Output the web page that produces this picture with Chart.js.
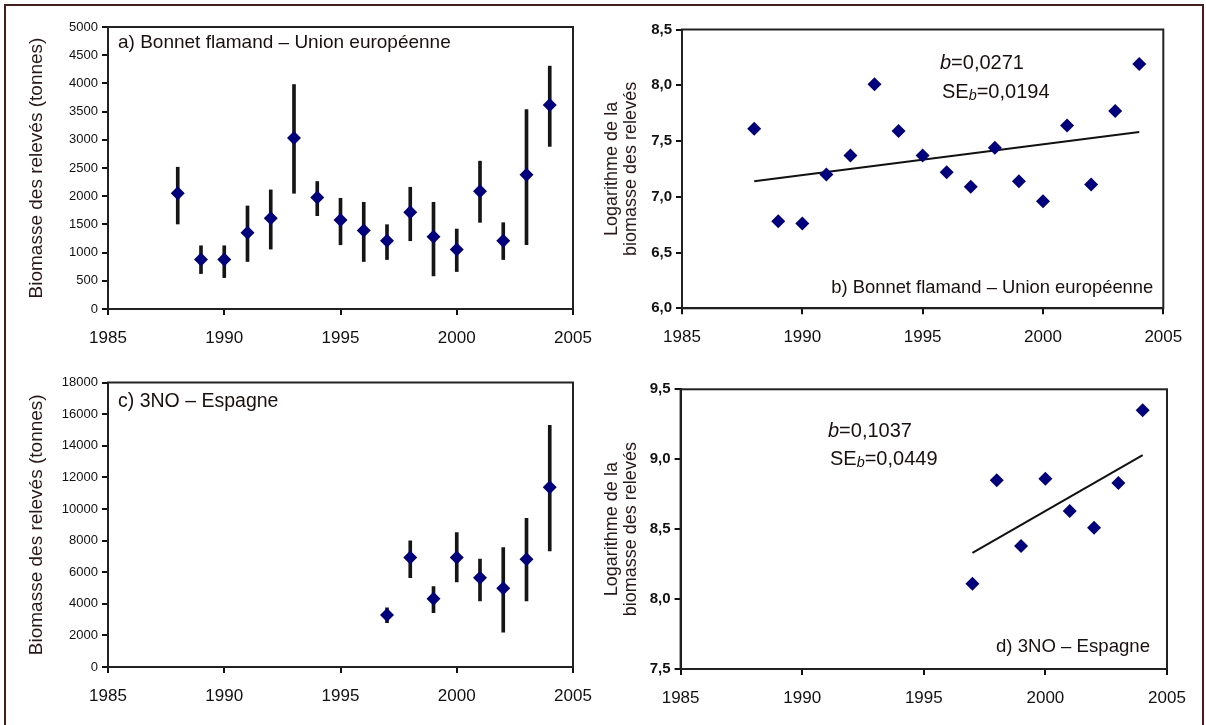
<!DOCTYPE html>
<html><head><meta charset="utf-8">
<script src="https://cdn.jsdelivr.net/npm/chart.js@4.4.0/dist/chart.umd.min.js"></script>
<style>
html,body{margin:0;padding:0;background:#fff;}
body{width:1206px;height:725px;position:relative;overflow:hidden;font-family:"Liberation Sans",Arial,sans-serif;}
#frame{position:absolute;left:4px;top:4px;width:1196px;height:740px;border:2px solid #4a1c1c;}
canvas{position:absolute;}
</style></head><body>
<div id="frame"></div>
<canvas id="ca" style="left:0px;top:10px" width="600" height="350"></canvas>
<canvas id="cb" style="left:595px;top:10px" width="605" height="350"></canvas>
<canvas id="cc" style="left:0px;top:365px" width="600" height="360"></canvas>
<canvas id="cd" style="left:595px;top:365px" width="605" height="360"></canvas>
<script>
// ---- Data ----
const yearsA = [1988,1989,1990,1991,1992,1993,1994,1995,1996,1997,1998,1999,2000,2001,2002,2003,2004];
const biomassA = [2052,877,877,1352,1607,3031,1975,1578,1394,1210,1714,1281,1056,2088,1210,2379,3618];
const lowA  = [1507,628,557,842,1062,2052,1655,1139,842,877,1210,587,664,1536,877,1139,2883];
const highA = [2514,1121,1121,1827,2112,3980,2260,1963,1892,1495,2159,1892,1418,2621,1530,3535,4306];

const yearsB = [1988,1989,1990,1991,1992,1993,1994,1995,1996,1997,1998,1999,2000,2001,2002,2003,2004];
const logB = [7.61,6.78,6.76,7.20,7.37,8.01,7.59,7.37,7.22,7.09,7.44,7.14,6.96,7.64,7.11,7.77,8.19];
const trendYearsB = [1988,2004];
const trendB = [7.14,7.58];

const yearsC = [1997,1998,1999,2000,2001,2002,2003,2004];
const biomassC = [3284,6923,4319,6923,5653,4979,6821,11369];
const lowC  = [2800,5653,3430,5380,4173,2204,4173,7349];
const highC = [3750,7984,5081,8511,6821,7558,9400,15288];

const yearsD = [1997,1998,1999,2000,2001,2002,2003,2004];
const logD = [8.11,8.85,8.38,8.86,8.63,8.51,8.83,9.35];
const trendYearsD = [1997,2004];
const trendD = [8.33,9.03];

const yTitleBiomass = 'Biomasse des relevés (tonnes)';
const yTitleLog = ['Logarithme de la','biomasse des relevés'];
const titleA = 'a) Bonnet flamand – Union européenne';
const titleB = 'b) Bonnet flamand – Union européenne';
const titleC = 'c) 3NO – Espagne';
const titleD = 'd) 3NO – Espagne';
const slopeB = '=0,0271', seB = '=0,0194';
const slopeD = '=0,1037', seD = '=0,0449';

// ---- Plugins ----
const FONT = '"Liberation Sans", Arial, sans-serif';
const TXT = '#1a1010';
const framePlugin = {
  id: 'frameBox',
  beforeDatasetsDraw(chart) {
    const {ctx, chartArea: a} = chart;
    ctx.save();
    ctx.strokeStyle = '#222';
    ctx.lineWidth = 2;
    ctx.strokeRect(a.left, a.top, a.right - a.left, a.bottom - a.top);
    ctx.restore();
  }
};
function drawRuns(ctx, runs, x, y, size, align) {
  let total = 0;
  const parts = runs.map(r => {
    const s = r.sub ? size * 0.72 : size;
    const f = (r.italic ? 'italic ' : '') + s + 'px ' + FONT;
    ctx.font = f;
    const w = ctx.measureText(r.t).width;
    total += w;
    return {t: r.t, f, w, dy: r.sub ? size * 0.18 : 0};
  });
  let cx = align === 'right' ? x - total : x;
  ctx.textBaseline = 'middle';
  ctx.textAlign = 'left';
  parts.forEach(p => {
    ctx.font = p.f;
    ctx.fillText(p.t, cx, y + p.dy);
    cx += p.w;
  });
}
const notesPlugin = {
  id: 'notes',
  afterDraw(chart, args, opts) {
    const {ctx, chartArea: a} = chart;
    ctx.save();
    ctx.fillStyle = TXT;
    (opts.items || []).forEach(it => {
      const x = it.ref === 'right' ? a.right + it.dx : a.left + it.dx;
      const y = it.vref === 'bottom' ? a.bottom + it.dy : a.top + it.dy;
      drawRuns(ctx, it.runs, x, y, it.size || 18, it.ref === 'right' ? 'right' : 'left');
    });
    ctx.restore();
  }
};

function build(id, o) {
  const datasets = [{
    type: 'scatter',
    data: o.xs.map((x, i) => ({x, y: o.ys[i]})),
    pointStyle: 'rectRot', pointRadius: o.r, pointHoverRadius: o.r,
    backgroundColor: '#00007f', borderColor: '#00007f', borderWidth: 0, order: 0
  }];
  if (o.lo) datasets.push({
    type: 'bar',
    data: o.xs.map((x, i) => ({x, y: [o.lo[i], o.hi[i]]})),
    backgroundColor: '#151515', barThickness: 3, order: 2
  });
  if (o.tx) datasets.push({
    type: 'line',
    data: o.tx.map((x, i) => ({x, y: o.ty[i]})),
    borderColor: '#111', borderWidth: 2, pointRadius: 0, fill: false, order: 1
  });
  const tickGrid = {drawOnChartArea: false, drawTicks: true, tickLength: 6, color: '#111', lineWidth: 2, offset: false};
  new Chart(document.getElementById(id), {
    type: 'scatter',
    data: {datasets},
    options: {
      responsive: false, animation: false, events: [], devicePixelRatio: 1,
      layout: {padding: {top: o.padTop, right: o.padRight, left: 0, bottom: 0}},
      plugins: {legend: {display: false}, tooltip: {enabled: false}, notes: {items: o.notes}},
      scales: {
        x: {
          type: 'linear', min: 1985, max: 2005, offset: false,
          ticks: {stepSize: 5, color: '#111', font: {family: FONT, size: 17}, padding: 13,
                  callback: v => String(v), maxRotation: 0},
          grid: tickGrid, border: {display: true, color: '#111', width: 2},
          afterFit: s => { s.height = o.xH; s.paddingLeft = 0; s.paddingRight = 0; }
        },
        y: {
          type: 'linear', min: o.ymin, max: o.ymax, offset: false,
          ticks: {stepSize: o.ystep, color: '#111', font: o.yFont, padding: 4,
                  callback: o.yFmt},
          grid: tickGrid, border: {display: true, color: '#111', width: 2},
          title: {display: true, text: o.yTitle, color: '#2a1818',
                  font: {family: FONT, size: o.tSize, lineHeight: o.tLH}, padding: {top: o.tPad, bottom: 0}},
          afterFit: s => { s.width = o.yW; }
        }
      }
    },
    plugins: [framePlugin, notesPlugin]
  });
}

const fmtInt = v => String(v);
const fmtDec = v => v.toFixed(1).replace('.', ',');

build('ca', {
  xs: yearsA, ys: biomassA, lo: lowA, hi: highA, r: 7,
  ymin: 0, ymax: 5000, ystep: 500, yFmt: fmtInt, yFont: {family: FONT, size: 13},
  yTitle: yTitleBiomass, tSize: 19, tLH: 1.2, tPad: 25.6,
  yW: 108, padTop: 17, padRight: 27, xH: 51,
  notes: [{runs: [{t: titleA}], dx: 10, dy: 16, size: 19}]
});
build('cb', {
  xs: yearsB, ys: logB, tx: trendYearsB, ty: trendB, r: 7,
  ymin: 6, ymax: 8.5, ystep: 0.5, yFmt: fmtDec, yFont: {family: FONT, size: 15, weight: 'bold'},
  yTitle: yTitleLog, tSize: 18, tLH: 1.05, tPad: 7.5,
  yW: 87, padTop: 19.5, padRight: 36.7, xH: 51.7,
  notes: [
    {runs: [{t: 'b', italic: true}, {t: slopeB}], dx: 258, dy: 33.5, size: 20},
    {runs: [{t: 'SE'}, {t: 'b', italic: true, sub: true}, {t: seB}], dx: 260, dy: 62.5, size: 20},
    {runs: [{t: titleB}], ref: 'right', dx: -10, vref: 'bottom', dy: -20, size: 18.4}
  ]
});
build('cc', {
  xs: yearsC, ys: biomassC, lo: lowC, hi: highC, r: 7,
  ymin: 0, ymax: 18000, ystep: 2000, yFmt: fmtInt, yFont: {family: FONT, size: 13},
  yTitle: yTitleBiomass, tSize: 19, tLH: 1.2, tPad: 25.6,
  yW: 108, padTop: 17.5, padRight: 27, xH: 58,
  notes: [{runs: [{t: titleC}], dx: 10, dy: 19.5, size: 19.5}]
});
build('cd', {
  xs: yearsD, ys: logD, tx: trendYearsD, ty: trendD, r: 7,
  ymin: 7.5, ymax: 9.5, ystep: 0.5, yFmt: fmtDec, yFont: {family: FONT, size: 15, weight: 'bold'},
  yTitle: yTitleLog, tSize: 18, tLH: 1.05, tPad: 7.5,
  yW: 85.6, padTop: 24.3, padRight: 33, xH: 56,
  notes: [
    {runs: [{t: 'b', italic: true}, {t: slopeD}], dx: 147.4, dy: 42.4, size: 20},
    {runs: [{t: 'SE'}, {t: 'b', italic: true, sub: true}, {t: seD}], dx: 149.4, dy: 70.5, size: 20},
    {runs: [{t: titleD}], ref: 'right', dx: -17, vref: 'bottom', dy: -22.5, size: 18.6}
  ]
});
</script>
</body></html>
